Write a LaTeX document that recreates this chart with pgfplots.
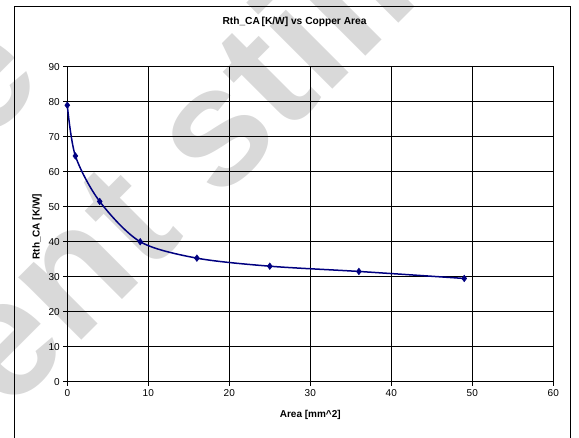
\documentclass[border=0pt]{standalone}
\usepackage{pgfplots}
\pgfplotsset{compat=1.18}
\usepackage{fontspec}
\setmainfont{Liberation Sans}
\definecolor{navyline}{HTML}{000080}
\definecolor{wm}{HTML}{D9D9D9}
\begin{document}
\begin{tikzpicture}[x=1pt,y=1pt]
\useasboundingbox (-67.3,-55.3) rectangle (511.7,381.7);
% watermark
\begin{scope}
\clip (-67.3,-55.3) rectangle (511.7,381.7);
\node[rotate=45, text=wm, font=\fontsize{168}{168}\selectfont\bfseries, anchor=center, inner sep=0pt] at (106,218) {ent still};
\node[rotate=45, text=wm, font=\fontsize{168}{168}\selectfont\bfseries, anchor=center, inner sep=0pt] at (-84,298) {e};
\end{scope}
% outer frame
\draw[black, line width=0.8pt] (-52.5,-60) -- (-52.5,375) -- (502.7,375) -- (502.7,-60);
\begin{axis}[
  scale only axis,
  width=486pt, height=315pt,
  xmin=0, xmax=60, ymin=0, ymax=90,
  xtick={0,10,...,60}, ytick={0,10,...,90},
  grid=major,
  major grid style={black, line width=0.6pt},
  axis line style={black, line width=0.8pt},
  tick align=outside,
  tick pos=left,
  major tick length=4pt,
  tick style={black, line width=0.8pt},
  tick label style={font=\fontsize{10}{12}\selectfont},
  /pgf/number format/assume math mode=true,
  title={\bfseries Rth\_CA\,[K/W] vs Copper Area},
  title style={font=\fontsize{10.2}{12}\selectfont, at={(axis description cs:0.4675,1.1219)}, anchor=center},
  xlabel={\bfseries Area [mm\^{}2]},
  xlabel style={font=\fontsize{10}{12}\selectfont, at={(axis description cs:0.5,-0.1057)}, anchor=center},
  ylabel={\bfseries Rth\_CA [K/W]},
  ylabel style={font=\fontsize{10}{12}\selectfont, at={(axis description cs:-0.0623,0.492)}, anchor=center},
  clip=false,
]
\addplot[navyline, line width=1.5pt, smooth, tension=0.5, mark=diamond*, mark size=3.3pt, mark options={fill=navyline, draw=navyline, line width=0.5pt}]
 coordinates {(0,79) (1,64.5) (4,51.5) (9,40) (16,35.3) (25,33) (36,31.5) (49,29.5)};
\end{axis}
\end{tikzpicture}
\end{document}
